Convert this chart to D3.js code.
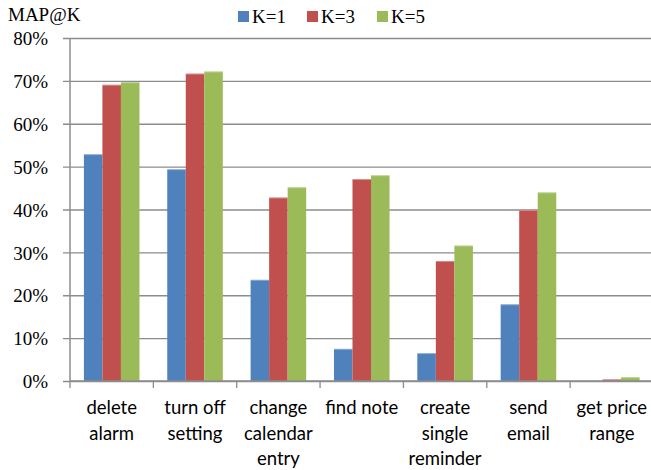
<!DOCTYPE html>
<html>
<head>
<meta charset="utf-8">
<script src="https://cdn.jsdelivr.net/npm/d3@7"></script>
<style>
  html, body { margin: 0; padding: 0; background: #fff; }
  svg { display: block; }
</style>
</head>
<body>
<svg id="chart" width="651" height="470"></svg>
<script>
// Intent categories (label lines) and MAP@K scores per K, in percent
const categories = [
  ["delete", "alarm"],
  ["turn off", "setting"],
  ["change", "calendar", "entry"],
  ["find note"],
  ["create", "single", "reminder"],
  ["send", "email"],
  ["get price", "range"]
];
const seriesNames = ["K=1", "K=3", "K=5"];
const k1 = [52.9, 49.4, 23.6, 7.5, 6.5, 17.9, 0.0];
const k3 = [69.1, 71.7, 42.8, 47.1, 28.0, 39.9, 0.4];
const k5 = [69.7, 72.2, 45.2, 48.0, 31.6, 44.0, 0.9];
const yTicks = [0, 10, 20, 30, 40, 50, 60, 70, 80];
const colors = ["#4F81BD", "#C0504D", "#9BBB59"];

const series = [k1, k3, k5];
const svg = d3.select("#chart");
const serif = "'Liberation Serif', 'Times New Roman', serif";

const plotLeft = 70, plotRight = 653.5, plotTop = 38, plotBottom = 381;

const x = d3.scaleBand()
  .domain(d3.range(categories.length))
  .range([plotLeft, plotRight])
  .paddingInner(0)
  .paddingOuter(0);

const inner = d3.scaleBand()
  .domain(d3.range(series.length))
  .range([0, x.bandwidth()])
  .paddingOuter(0.75)
  .paddingInner(0);

const y = d3.scaleLinear().domain([0, 80]).range([plotBottom, plotTop]);

// Horizontal gridlines with left tick marks
const yAxis = d3.axisLeft(y)
  .tickValues(yTicks)
  .tickSize(-(651 - plotLeft))
  .tickFormat(d => d + "%");

const gy = svg.append("g")
  .attr("transform", `translate(${plotLeft},0)`)
  .call(yAxis)
  .attr("font-family", serif)
  .attr("font-size", 19);
gy.select(".domain").remove();
gy.selectAll(".tick line")
  .attr("x1", -7)
  .attr("stroke", "#8c8c8c")
  .attr("stroke-width", 1.3);
gy.selectAll(".tick text")
  .attr("x", -22)
  .attr("dy", "0.35em")
  .style("font-family", serif)
  .attr("fill", "#000");

// Bars
const groups = svg.append("g").selectAll("g")
  .data(series)
  .join("g")
  .attr("fill", (d, i) => colors[i]);

groups.selectAll("rect")
  .data((d, si) => d.map((v, ci) => ({ v, ci, si })))
  .join("rect")
  .attr("x", d => x(d.ci) + inner(d.si))
  .attr("width", inner.bandwidth())
  .attr("y", d => y(d.v))
  .attr("height", d => y(0) - y(d.v));

// Bar top highlight edge
groups.selectAll("line")
  .data((d, si) => d.map((v, ci) => ({ v, ci, si })).filter(d => d.v > 0))
  .join("line")
  .attr("x1", d => x(d.ci) + inner(d.si))
  .attr("x2", d => x(d.ci) + inner(d.si) + inner.bandwidth())
  .attr("y1", d => y(d.v) + 0.5)
  .attr("y2", d => y(d.v) + 0.5)
  .attr("stroke", "#fff")
  .attr("stroke-opacity", 0.35);

// Vertical axis line
svg.append("line")
  .attr("x1", plotLeft).attr("x2", plotLeft)
  .attr("y1", plotTop).attr("y2", plotBottom)
  .attr("stroke", "#8c8c8c")
  .attr("stroke-width", 1.5);

// Category axis
const xAxis = d3.axisBottom(x).tickSize(0).tickFormat("");
const gx = svg.append("g")
  .attr("transform", `translate(0,${plotBottom})`)
  .call(xAxis);
gx.select(".domain")
  .attr("d", `M${plotLeft},0H651`)
  .attr("stroke", "#8c8c8c")
  .attr("stroke-width", 1.5);

// Tick marks between categories
svg.append("g").selectAll("line")
  .data(d3.range(categories.length))
  .join("line")
  .attr("x1", d => x(d))
  .attr("x2", d => x(d))
  .attr("y1", plotBottom)
  .attr("y2", plotBottom + 7)
  .attr("stroke", "#8c8c8c")
  .attr("stroke-width", 1.3);

// Category labels (multi-line)
const labels = svg.append("g").selectAll("text")
  .data(categories)
  .join("text")
  .attr("text-anchor", "middle")
  .attr("font-family", "Lato, 'Open Sans', sans-serif")
  .attr("font-size", 18.5)
  .attr("fill", "#000")
  .attr("transform", (d, i) => `translate(${x(i) + x.bandwidth() / 2},414)`);
labels.selectAll("tspan")
  .data(d => d)
  .join("tspan")
  .attr("x", 0)
  .attr("y", (d, i) => i * 25.5)
  .text(d => d);

// Y axis title
svg.append("text")
  .attr("x", 8).attr("y", 21)
  .attr("font-family", serif)
  .attr("font-size", 19)
  .attr("fill", "#000")
  .text("MAP@K");

// Legend
const legendX = [238, 307, 377];
const legend = svg.append("g").selectAll("g")
  .data(seriesNames)
  .join("g")
  .attr("transform", (d, i) => `translate(${legendX[i]},0)`);
legend.append("rect")
  .attr("x", 0).attr("y", 11)
  .attr("width", 11).attr("height", 11)
  .attr("fill", (d, i) => colors[i]);
legend.append("text")
  .attr("x", 14).attr("y", 23)
  .attr("font-family", serif)
  .attr("font-size", 19)
  .attr("fill", "#000")
  .text(d => d);
</script>
</body>
</html>
